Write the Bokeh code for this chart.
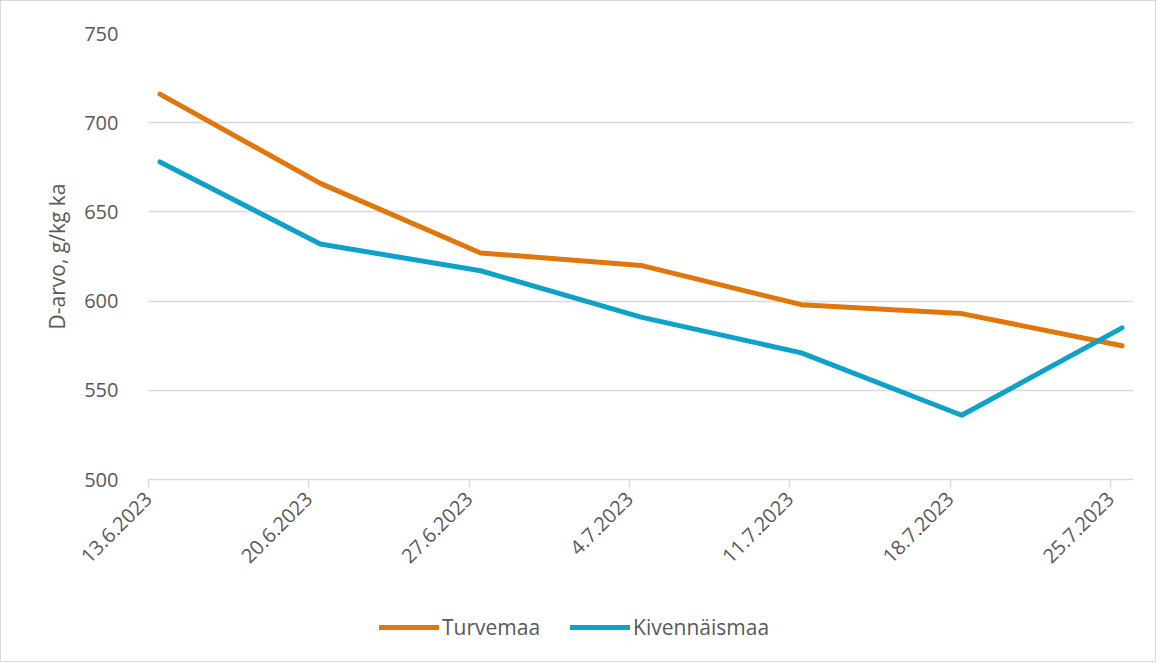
import math
from bokeh.plotting import figure
from bokeh.layouts import column
from bokeh.models import ColumnDataSource, Range1d, FixedTicker, Legend, LegendItem
from bokeh.embed import file_html
from bokeh.resources import INLINE

dates = ["13.6.2023", "20.6.2023", "27.6.2023", "4.7.2023", "11.7.2023", "18.7.2023", "25.7.2023"]
day_offsets = [0, 7, 14, 21, 28, 35, 42]
turvemaa = [716, 666, 627, 620, 598, 593, 575]
kivennaismaa = [678, 632, 617, 591, 571, 536, 585]
series_names = ["Turvemaa", "Kivennäismaa"]

FONT = "Open Sans"
TXT = "#595959"
GRID = "#d9d9d9"
ORANGE = "#E1760A"
BLUE = "#0FA2C8"

xs = [d + 0.5 for d in day_offsets]
src = ColumnDataSource(dict(x=xs, t=turvemaa, k=kivennaismaa))

W = 1154
p = figure(width=W, height=605, output_backend="svg", toolbar_location=None,
           x_range=Range1d(0, 43), y_range=Range1d(500, 750))
p.min_border_left = 147
p.min_border_top = 32
p.min_border_right = 22
p.min_border_bottom = 127
p.outline_line_color = None

p.line("x", "t", source=src, line_color=ORANGE, line_width=5, line_join="round", line_cap="round")
p.line("x", "k", source=src, line_color=BLUE, line_width=5, line_join="round", line_cap="round")

p.xgrid.grid_line_color = None
p.ygrid.grid_line_color = GRID
p.ygrid.grid_line_width = 1.5

p.yaxis.ticker = FixedTicker(ticks=[500, 550, 600, 650, 700, 750])
p.yaxis.axis_line_color = None
p.yaxis.major_tick_line_color = None
p.yaxis.minor_tick_line_color = None
p.yaxis.major_label_text_font = FONT
p.yaxis.major_label_text_font_size = "20px"
p.yaxis.major_label_text_color = TXT
p.yaxis.major_label_standoff = 24
p.yaxis.axis_label = "D-arvo, g/kg ka"
p.yaxis.axis_label_text_font = FONT
p.yaxis.axis_label_text_font_size = "21px"
p.yaxis.axis_label_text_font_style = "normal"
p.yaxis.axis_label_text_color = TXT
p.yaxis.axis_label_standoff = 10

p.xaxis.ticker = FixedTicker(ticks=day_offsets)
p.xaxis.major_label_overrides = {d: lab for d, lab in zip(day_offsets, dates)}
p.xaxis.major_label_orientation = math.pi / 4
p.xaxis.axis_line_color = GRID
p.xaxis.axis_line_width = 1.5
p.xaxis.major_tick_line_color = GRID
p.xaxis.major_tick_line_width = 1.5
p.xaxis.major_tick_in = 0
p.xaxis.major_tick_out = 8
p.xaxis.minor_tick_line_color = None
p.xaxis.major_label_text_font = FONT
p.xaxis.major_label_text_font_size = "20px"
p.xaxis.major_label_text_color = TXT
p.xaxis.major_label_standoff = 8

# legend strip: same series drawn outside its visible range, only the legend shows
lf = figure(width=W, height=55, output_backend="svg", toolbar_location=None,
            x_range=Range1d(1000, 1001), y_range=Range1d(0, 1))
lf.min_border = 0
lf.outline_line_color = None
lf.axis.visible = False
lf.grid.visible = False
l1 = lf.line("x", "t", source=src, line_color=ORANGE, line_width=5, line_cap="round")
l2 = lf.line("x", "k", source=src, line_color=BLUE, line_width=5, line_cap="round")
legend = Legend(items=[LegendItem(label=series_names[0], renderers=[l1]),
                       LegendItem(label=series_names[1], renderers=[l2])],
                orientation="horizontal", location=(231, 20))
legend.label_text_font = FONT
legend.label_text_font_size = "21px"
legend.label_text_color = TXT
legend.glyph_width = 60
legend.glyph_height = 20
legend.label_standoff = 3
legend.spacing = 30
legend.margin = 0
legend.padding = 2
legend.border_line_color = None
legend.background_fill_alpha = 0
lf.add_layout(legend, "center")

layout = column(p, lf, spacing=0)
layout.styles = {"border": "1px solid #d9d9d9"}

open("out.html", "w").write(file_html(layout, INLINE))
